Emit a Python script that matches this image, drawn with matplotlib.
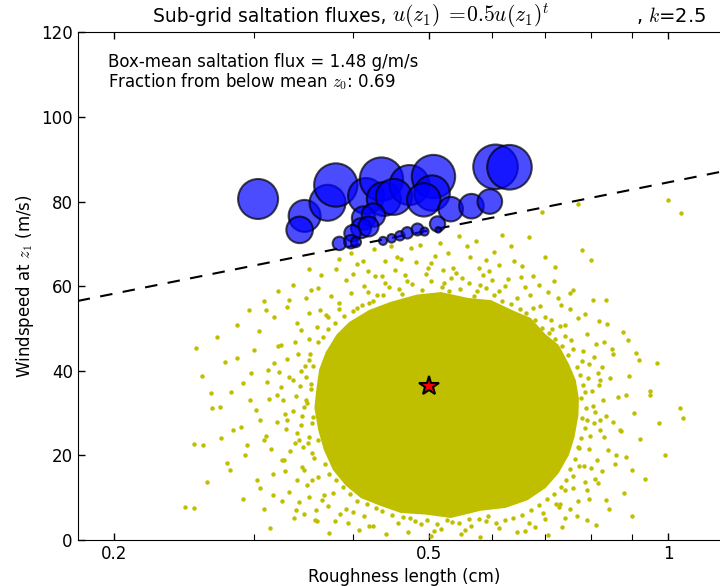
import matplotlib
matplotlib.use('Agg')
import matplotlib.pyplot as plt
from matplotlib.ticker import FixedLocator, NullFormatter

# sub-grid points above the threshold line: roughness (cm), wind (m/s), flux (arb. units)
blue_z0 = [0.304, 0.348, 0.343, 0.372, 0.381, 0.416, 0.435, 0.438, 0.472, 0.451,
           0.506, 0.504, 0.492, 0.532, 0.565, 0.596, 0.606, 0.631, 0.512, 0.413,
           0.425, 0.410, 0.419, 0.400, 0.385, 0.398, 0.404, 0.437, 0.448, 0.459,
           0.469, 0.483, 0.493, 0.513]
blue_u = [80.6, 76.6, 73.3, 79.7, 83.9, 81.3, 85.3, 80.6, 83.9, 81.1,
          85.9, 82.0, 80.4, 78.2, 78.9, 80.0, 88.2, 88.1, 74.7, 76.1,
          76.8, 73.7, 74.1, 72.5, 70.1, 70.5, 70.4, 70.7, 71.3, 71.9,
          72.6, 73.4, 72.9, 73.3]
blue_flux = [4.15, 2.65, 1.83, 3.36, 4.88, 3.36, 4.88, 3.00, 4.15, 3.36,
             4.88, 3.25, 2.89, 1.57, 1.57, 1.57, 5.16, 5.16, 0.61, 1.42,
             1.42, 1.04, 1.04, 0.71, 0.47, 0.47, 0.26, 0.17, 0.19, 0.23,
             0.34, 0.37, 0.17, 0.08]

# sub-grid points below the threshold, outside the dense core: (roughness cm, wind m/s)
yel_pts = [
    # far left tail
    (0.252, 7.6), (0.254, 45.4), (0.259, 22.5), (0.265, 34.7), (0.272, 31.4), (0.276, 42.1),
    (0.280, 16.5), (0.283, 26.0), (0.286, 50.8), (0.291, 37.1), (0.293, 20.1), (0.297, 33.1),
    (0.300, 44.9), (0.303, 14.2), (0.306, 28.4), (0.309, 23.6), (0.311, 54.4), (0.313, 40.2),
    (0.317, 10.6), (0.321, 34.3), (0.325, 46.1), (0.328, 18.9), (0.331, 28.4), (0.333, 56.7),
    (0.336, 37.8), (0.339, 7.1), (0.342, 23.6), (0.344, 49.6), (0.347, 16.5), (0.349, 33.1),
    (0.352, 42.5), (0.354, 59.1), (0.356, 14.2), (0.359, 4.7), (0.362, 23.6), (0.364, 54.4),
    (0.366, 9.5),
    (0.270, 47.9), (0.266, 31.2), (0.273, 24.0), (0.262, 13.6), (0.258, 38.7), (0.252, 22.6),
    (0.246, 7.8), (0.286, 43.1), (0.281, 35.0), (0.289, 26.6), (0.278, 18.1), (0.291, 9.7),
    (0.305, 49.3), (0.298, 39.5), (0.302, 30.7), (0.294, 22.4), (0.306, 12.2), (0.309, 7.4),
    (0.315, 2.8),
    # left flank, medium density
    (0.352, 47.5), (0.341, 44.0), (0.348, 41.2), (0.333, 38.6), (0.355, 36.9), (0.339, 34.1),
    (0.347, 31.5), (0.329, 29.8), (0.356, 27.6), (0.340, 25.3), (0.351, 22.9), (0.334, 21.1),
    (0.358, 19.4), (0.345, 17.2), (0.362, 14.8), (0.350, 12.9), (0.368, 10.6), (0.372, 8.1),
    (0.386, 6.2), (0.395, 3.9), (0.408, 2.3), (0.322, 45.8), (0.318, 41.9), (0.325, 36.2),
    (0.314, 33.4), (0.321, 27.9), (0.311, 24.6), (0.326, 18.8), (0.317, 15.7), (0.333, 11.4),
    (0.342, 8.9), (0.337, 5.3), (0.361, 4.4), (0.374, 1.6),
    (0.338, 46.9), (0.331, 42.7), (0.344, 40.0), (0.327, 33.0), (0.336, 30.6), (0.345, 29.3),
    (0.330, 26.2), (0.338, 23.0), (0.329, 16.4), (0.340, 14.1), (0.352, 10.2), (0.360, 7.0),
    (0.347, 6.1), (0.323, 39.8), (0.312, 37.4), (0.316, 21.5), (0.326, 9.3), (0.380, 4.6),
    (0.401, 6.7), (0.419, 3.4),
    # upper left
    (0.372, 52.8), (0.361, 50.4), (0.385, 55.9), (0.398, 58.3), (0.413, 60.1), (0.427, 62.4),
    (0.440, 60.8), (0.392, 61.5), (0.376, 57.6), (0.352, 53.7), (0.340, 51.2), (0.331, 55.0),
    (0.362, 59.6), (0.349, 57.1), (0.318, 52.6), (0.309, 56.4), (0.381, 64.0), (0.405, 65.2),
    (0.336, 60.2), (0.296, 54.4), (0.322, 58.9),
    # top, just under the threshold
    (0.452, 63.8), (0.468, 61.2), (0.481, 65.7), (0.495, 62.9), (0.508, 67.1), (0.522, 60.7),
    (0.536, 64.4), (0.550, 62.0), (0.563, 66.8), (0.579, 60.3), (0.594, 63.5), (0.612, 58.9),
    (0.628, 61.8), (0.645, 57.2), (0.660, 59.9), (0.474, 68.9), (0.515, 70.2), (0.557, 69.5),
    (0.603, 68.1), (0.640, 66.0), (0.676, 62.5), (0.690, 55.4), (0.458, 59.3), (0.530, 58.8),
    (0.570, 57.6),
    (0.385, 66.5), (0.398, 67.8), (0.412, 66.0), (0.426, 68.7), (0.439, 65.9), (0.447, 69.6),
    (0.460, 66.4), (0.487, 69.8), (0.502, 65.4), (0.528, 67.9), (0.545, 71.8), (0.572, 70.6),
    (0.589, 66.2), (0.618, 72.1), (0.634, 69.4), (0.655, 64.8), (0.668, 71.5), (0.612, 64.9),
    (0.365, 62.7), (0.352, 64.1),
    (0.400, 62.8), (0.418, 63.6), (0.436, 62.3), (0.455, 66.9), (0.520, 63.8), (0.577, 64.4),
    (0.600, 61.4), (0.622, 60.0), (0.652, 62.1), (0.670, 57.8),
    # right flank, medium density
    (0.700, 52.6), (0.715, 49.8), (0.742, 50.9), (0.755, 47.2), (0.781, 44.6), (0.768, 41.0),
    (0.792, 38.2), (0.785, 34.9), (0.804, 31.7), (0.790, 28.3), (0.798, 24.5), (0.772, 21.8),
    (0.783, 17.6), (0.760, 15.1), (0.741, 11.9), (0.722, 8.6), (0.695, 6.3), (0.668, 3.9),
    (0.645, 1.8), (0.612, 2.9), (0.590, 4.6), (0.812, 46.3), (0.826, 40.9), (0.818, 36.6),
    (0.835, 29.4), (0.821, 26.0), (0.840, 21.3), (0.808, 14.3), (0.795, 9.8), (0.768, 5.6),
    (0.735, 3.1), (0.705, 1.2), (0.852, 43.9), (0.865, 33.8), (0.872, 25.7), (0.858, 17.9),
    (0.843, 7.4), (0.812, 3.5),
    (0.806, 43.2), (0.815, 39.4), (0.828, 33.1), (0.809, 30.2), (0.830, 24.4), (0.814, 19.0),
    (0.826, 16.4), (0.799, 16.9), (0.785, 13.8), (0.771, 9.1), (0.752, 7.3), (0.742, 5.2),
    (0.680, 3.0), (0.660, 2.1), (0.845, 38.2), (0.852, 27.8), (0.831, 46.9), (0.818, 51.7),
    (0.790, 48.7), (0.770, 52.4), (0.752, 54.6), (0.726, 57.3), (0.705, 58.6), (0.688, 60.2),
    # right tail
    (0.733, 55.6), (0.752, 58.4), (0.718, 61.3), (0.786, 53.3), (0.805, 56.8), (0.837, 51.0),
    (0.878, 49.2), (0.893, 38.7), (0.905, 30.1), (0.886, 19.6), (0.921, 23.8), (0.912, 44.1),
    (0.948, 35.2), (0.936, 14.4), (0.975, 27.6), (0.968, 41.9), (0.880, 11.2), (0.900, 5.6),
    (0.990, 20.0), (1.035, 31.2), (1.046, 28.8), (1.000, 80.4), (1.040, 77.3), (0.771, 79.4),
    (0.693, 77.5), (0.890, 47.3), (0.920, 42.5), (0.950, 34.3), (0.870, 26.0), (0.900, 16.5),
    (0.835, 9.5), (0.820, 37.8), (0.860, 20.1), (0.790, 4.7), (0.760, 59.1), (0.780, 68.5),
    (0.820, 28.4), (0.850, 45.2), (0.720, 64.5), (0.700, 66.9), (0.790, 11.8), (0.730, 8.5),
    (0.815, 13.5), (0.885, 34.3), (0.800, 66.2), (0.835, 56.7),
    # bottom, near zero wind
    (0.425, 3.2), (0.441, 1.4), (0.456, 4.1), (0.470, 2.0), (0.488, 3.7), (0.503, 0.9),
    (0.517, 2.6), (0.534, 4.3), (0.548, 1.5), (0.565, 3.4), (0.580, 0.6), (0.472, 5.2),
    (0.530, 6.1),
    # ragged rim of the dense core
    (0.430, 57.9), (0.445, 59.8), (0.462, 58.2), (0.476, 60.4), (0.489, 59.0), (0.503, 61.1),
    (0.519, 59.7), (0.533, 61.9), (0.547, 59.4), (0.561, 60.8), (0.575, 58.9), (0.589, 59.6),
    (0.604, 57.8), (0.618, 56.4), (0.633, 55.8), (0.650, 54.7), (0.498, 64.3), (0.541, 63.0),
    (0.466, 62.6), (0.585, 62.7), (0.420, 56.0), (0.405, 54.9), (0.418, 58.7),
    (0.662, 53.7), (0.679, 51.9), (0.693, 50.2), (0.707, 48.9), (0.721, 47.6), (0.735, 45.8),
    (0.748, 43.7), (0.676, 54.9), (0.712, 52.0), (0.741, 48.3), (0.760, 45.1), (0.730, 50.5),
    (0.778, 42.3), (0.774, 39.1), (0.781, 36.7), (0.776, 33.5), (0.789, 31.2), (0.780, 28.8),
    (0.785, 26.4), (0.777, 24.1), (0.770, 22.0), (0.763, 19.2), (0.795, 41.7), (0.801, 35.3),
    (0.807, 27.7), (0.796, 21.6), (0.773, 17.4),
    (0.752, 16.8), (0.744, 14.2), (0.732, 12.6), (0.718, 10.9), (0.703, 9.7), (0.688, 8.2),
    (0.671, 7.1), (0.655, 6.0), (0.638, 5.3), (0.622, 4.8), (0.606, 4.1), (0.760, 12.4),
    (0.728, 7.9), (0.699, 5.0),
    (0.592, 5.7), (0.577, 4.9), (0.561, 5.0), (0.545, 3.9), (0.526, 4.7), (0.511, 3.8),
    (0.496, 4.8), (0.480, 4.4), (0.463, 5.5), (0.449, 6.0), (0.436, 6.8), (0.507, 2.1),
    (0.555, 2.4),
    (0.428, 7.6), (0.417, 8.4), (0.405, 9.2), (0.397, 10.8), (0.389, 12.5), (0.381, 14.1),
    (0.374, 15.7), (0.369, 17.9), (0.414, 5.7), (0.392, 7.3), (0.378, 11.0),
    (0.356, 20.6), (0.352, 24.3), (0.357, 29.0), (0.350, 32.4), (0.355, 35.6), (0.349, 38.5),
    (0.357, 41.1), (0.353, 44.0), (0.362, 46.8), (0.344, 27.1), (0.343, 36.3), (0.346, 21.9),
    (0.367, 47.9), (0.373, 49.8), (0.380, 51.3), (0.390, 52.9), (0.400, 54.1), (0.411, 55.6),
    (0.425, 56.4), (0.437, 57.8), (0.384, 54.6), (0.370, 53.1),
]
yel_z0 = [p[0] for p in yel_pts]
yel_u = [p[1] for p in yel_pts]

# outline of the dense core, where the dots merge (roughness cm, wind m/s)
core_z0 = [0.517, 0.560, 0.598, 0.640, 0.671, 0.700, 0.728, 0.750, 0.765, 0.772, 0.771,
           0.762, 0.750, 0.728, 0.701, 0.665, 0.624, 0.580, 0.532, 0.495, 0.460, 0.432,
           0.410, 0.392, 0.378, 0.368, 0.362, 0.358, 0.360, 0.363, 0.370, 0.382, 0.396,
           0.420, 0.447, 0.482]
core_u = [58.6, 57.2, 56.7, 54.1, 52.5, 48.7, 46.1, 41.6, 37.8, 33.4, 29.5,
          24.2, 20.1, 15.8, 12.3, 9.4, 7.6, 6.9, 5.2, 6.0, 6.4, 8.2,
          9.9, 12.9, 16.5, 21.3, 26.0, 31.2, 35.5, 40.3, 44.4, 48.6, 51.5,
          54.4, 56.3, 58.0]

# threshold line
thr_z0 = [0.18, 1.2]
thr_u = [56.5, 87.5]

mean_z0 = 0.5
mean_u = 36.5

plt.rcParams['font.size'] = 12
plt.rcParams['mathtext.fontset'] = 'cm'
plt.rcParams['xtick.direction'] = 'in'
plt.rcParams['ytick.direction'] = 'in'
plt.rcParams['xtick.top'] = True
plt.rcParams['ytick.right'] = True

fig = plt.figure(figsize=(7.2, 5.86), dpi=100)
ax = fig.add_axes([0.1079, 0.0785, 0.907, 0.8664])

ax.fill(core_z0, core_u, color='y', lw=0, zorder=1)
ax.plot(yel_z0, yel_u, 'o', color='y', ms=3.2, mew=0, zorder=2)
ax.plot(thr_z0, thr_u, '--', color='k', lw=1.5, dashes=(6, 5), zorder=3)
ax.scatter(blue_z0, blue_u, s=[200 * f for f in blue_flux], c='b', alpha=0.7,
           edgecolors='k', linewidths=1.5, zorder=4)
ax.plot([mean_z0], [mean_u], '*', color='r', ms=15, mec='k', mew=1.5, zorder=5)

ax.set_xscale('log')
ax.set_xlim(0.18, 1.2)
ax.set_ylim(0, 120)
ax.xaxis.set_major_locator(FixedLocator([0.2, 0.5, 1.0]))
ax.set_xticklabels(['0.2', '0.5', '1'])
ax.xaxis.set_minor_locator(FixedLocator([0.3, 0.4, 0.6, 0.7, 0.8, 0.9]))
ax.xaxis.set_minor_formatter(NullFormatter())
ax.tick_params(which='major', length=5, width=1)
ax.tick_params(which='minor', length=4, width=0.8)

ax.set_xlabel('Roughness length (cm)')
ax.set_ylabel('Windspeed at $z_1$ (m/s)')
ax.text(0.046, 0.9415, 'Box-mean saltation flux = 1.48 g/m/s',
        transform=ax.transAxes, ha='left', va='center')
ax.text(0.046, 0.902, 'Fraction from below mean $z_0$: 0.69',
        transform=ax.transAxes, ha='left', va='center')

# title in pieces: the math part is set wider than the plain text
ybase = 1 - 22 / 586
t1 = fig.text(153 / 720, ybase, 'Sub-grid saltation fluxes, ', fontsize=13.5,
              ha='left', va='baseline')
fig.canvas.draw()
x1 = t1.get_window_extent(fig.canvas.get_renderer()).x1 / fig.bbox.width
fig.text(x1, ybase, r'$u(z_1)\;=\!0.5u(z_1)^t$', fontsize=15.5, ha='left', va='baseline')
fig.text(706 / 720, ybase, ', $k$=2.5', fontsize=14, ha='right', va='baseline')

fig.savefig('out.png', dpi=100)
